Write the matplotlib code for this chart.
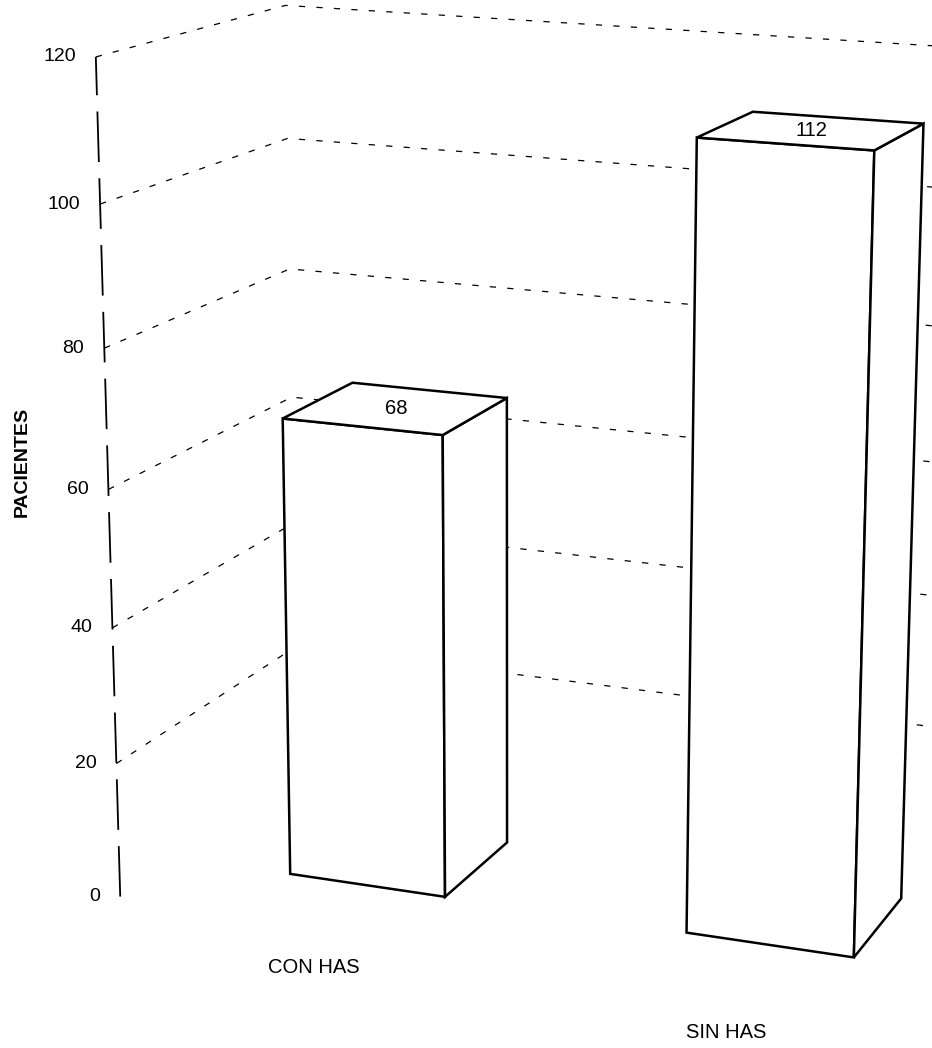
import numpy as np
import matplotlib.pyplot as plt

plt.rcParams["font.family"] = ["Liberation Sans", "DejaVu Sans"]

categories = ["CON HAS", "SIN HAS"]
patients = [68, 112]
value_ticks = [0, 20, 40, 60, 80, 100, 120]
value_label = "PACIENTES"

# scene layout in world units; values run straight up the z axis
bar_left0 = 18.6      # left side of the first bar
bar_step = 60.95      # distance between categories
bar_w = 24.37
bar_front = 16.63
bar_depth = 23.07
wall_depth = 57.6
wall_right = 122.0

# perspective camera (pixel units of the canvas)
focal = 3543.3
yaw = -0.33338
pitch = 0.24820
roll = 0.01421
eye = np.array([232.76, -418.21, 190.27])
centre = (711.59, 422.00)


def camera_axes():
    fwd = np.array([np.sin(yaw) * np.cos(pitch), np.cos(yaw) * np.cos(pitch), -np.sin(pitch)])
    right = np.array([np.cos(yaw), -np.sin(yaw), 0.0])
    up = np.array([np.sin(yaw) * np.sin(pitch), np.cos(yaw) * np.sin(pitch), np.cos(pitch)])
    return (fwd,
            np.cos(roll) * right + np.sin(roll) * up,
            -np.sin(roll) * right + np.cos(roll) * up)


FWD, RIGHT, UP = camera_axes()


def to_screen(pts):
    d = np.atleast_2d(np.asarray(pts, float)) - eye
    depth = d @ FWD
    u = centre[0] + focal * (d @ RIGHT) / depth
    v = centre[1] - focal * (d @ UP) / depth
    return u, v


fig = plt.figure(figsize=(9.32, 10.48), dpi=100)
ax = fig.add_axes([0, 0, 1, 1])
ax.set_xlim(0, 932)
ax.set_ylim(1048, 0)
ax.axis("off")

# grid lines on the left and back walls
for z in value_ticks[1:]:
    u, v = to_screen([(0, 0, z), (0, wall_depth, z), (wall_right, wall_depth, z)])
    ax.plot(u, v, color="black", lw=0.9, ls=(0, (5, 9)), zorder=1)

# value axis with its tick labels
u, v = to_screen([(0, 0, value_ticks[0]), (0, 0, value_ticks[-1])])
ax.plot(u, v, color="black", lw=1.3, ls=(0, (28, 9)), zorder=1)
for t in value_ticks:
    u, v = to_screen([(0, 0, t)])
    ax.text(u[0] - 20, v[0], str(t), ha="right", va="center", fontsize=14, zorder=4)

ax.text(22, 462, value_label, rotation=90, ha="center", va="center",
        fontsize=14, fontweight="bold")

# the boxes: front, right side and top faces
for i, (name, val) in enumerate(zip(categories, patients)):
    x0 = bar_left0 + i * bar_step
    x1 = x0 + bar_w
    y0 = bar_front
    y1 = bar_front + bar_depth
    faces = [[(x0, y0, 0), (x1, y0, 0), (x1, y0, val), (x0, y0, val)],
             [(x1, y0, 0), (x1, y1, 0), (x1, y1, val), (x1, y0, val)],
             [(x0, y0, val), (x1, y0, val), (x1, y1, val), (x0, y1, val)]]
    for face in faces:
        u, v = to_screen(face)
        ax.fill(u, v, facecolor="white", edgecolor="black", lw=1.8,
                joinstyle="miter", zorder=3)

    xc = (x0 + x1) / 2
    u, v = to_screen([(xc, (y0 + y1) / 2, val)])
    ax.text(u[0], v[0], str(val), ha="center", va="center", fontsize=14.5, zorder=4)

    u, v = to_screen([(xc, -1.3, -5.6)])
    ax.text(u[0], v[0], name, ha="center", va="center", fontsize=14.5, zorder=4)

fig.savefig("out.png", dpi=100, facecolor="white")
